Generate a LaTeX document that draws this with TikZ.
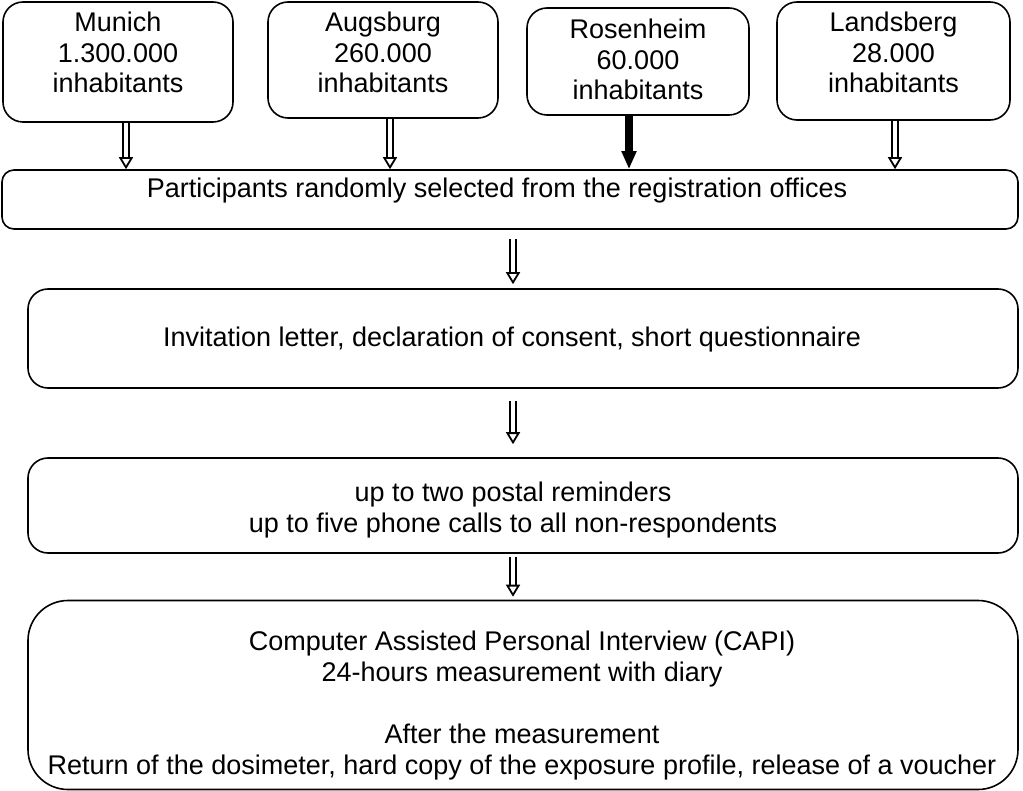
\documentclass[tikz,border=0pt]{standalone}
\usepackage{fontspec}
\setmainfont{Liberation Sans}
\usetikzlibrary{arrows.meta}
\tikzset{
  box/.style={draw, line width=0.8pt, rounded corners=#1, inner sep=0pt},
  box/.default=10pt,
  txt/.style={align=center, inner sep=0pt, font=\fontsize{13.5}{15.25}\selectfont},
  hollowArrow/.style={double, double distance=1.8pt, line width=0.9pt,
    -{Triangle[open, width=7pt, length=6pt]}},
  solidArrow/.style={line width=4pt, -{Triangle[width=7pt, length=9pt]}}
}
\begin{document}
\begin{tikzpicture}[x=0.5pt, y=-0.5pt]
\useasboundingbox (0,0) rectangle (1023,791);
\node[box, minimum width=115pt, minimum height=60pt] (munich) at (118,62) {};
\node[box, minimum width=115pt, minimum height=58pt] (augsburg) at (383,60) {};
\node[box, minimum width=111pt, minimum height=53.5pt] (rosenheim) at (638,61.5) {};
\node[box, minimum width=116.5pt, minimum height=59pt] (landsberg) at (893.5,61) {};
\node[box=6pt, minimum width=508pt, minimum height=29.5pt] (participants) at (510,199.5) {};
\node[box, minimum width=495pt, minimum height=49.5pt] (invitation) at (523,338.5) {};
\node[box, minimum width=495pt, minimum height=47.5pt] (reminders) at (523,505.5) {};
\node[box=20pt, minimum width=495pt, minimum height=94.5pt] (capi) at (523,695) {};
\node[txt, anchor=base] (munichText) at (118,93) {Munich\\1.300.000\\inhabitants};
\node[txt, anchor=base] (augsburgText) at (383,93) {Augsburg\\260.000\\inhabitants};
\node[txt, anchor=base] (rosenheimText) at (638,100) {Rosenheim\\60.000\\inhabitants};
\node[txt, anchor=base] (landsbergText) at (893.5,93) {Landsberg\\28.000\\inhabitants};
\node[txt, anchor=base] (participantsText) at (497,198) {Participants randomly selected from the registration offices};
\node[txt, anchor=base] (invitationText) at (512,347) {Invitation letter, declaration of consent, short questionnaire};
\node[txt, anchor=base] (remindersText) at (513,532) {up to two postal reminders\\up to five phone calls to all non-respondents};
\node[txt, anchor=base, font=\fontsize{13.5}{15.5}\selectfont] (capiText) at (522,774) {Computer Assisted Personal Interview (CAPI)\\24-hours measurement with diary\\[15.5pt]After the measurement\\Return of the dosimeter, hard copy of the exposure profile, release of a voucher};
\draw[hollowArrow] (126,0 |- munich.south) -- (126,0 |- participants.north);
\draw[hollowArrow] (390,0 |- augsburg.south) -- (390,0 |- participants.north);
\draw[solidArrow] (629,0 |- rosenheim.south) -- (629,0 |- participants.north);
\draw[hollowArrow] (895,0 |- landsberg.south) -- (895,0 |- participants.north);
\draw[hollowArrow, shorten <=4.5pt, shorten >=2pt] (513,0 |- participants.south) -- (513,0 |- invitation.north);
\draw[hollowArrow, shorten <=6pt, shorten >=6.5pt] (513,0 |- invitation.south) -- (513,0 |- reminders.north);
\draw[hollowArrow, shorten <=1.5pt, shorten >=1.5pt] (513,0 |- reminders.south) -- (513,0 |- capi.north);
\end{tikzpicture}
\end{document}
